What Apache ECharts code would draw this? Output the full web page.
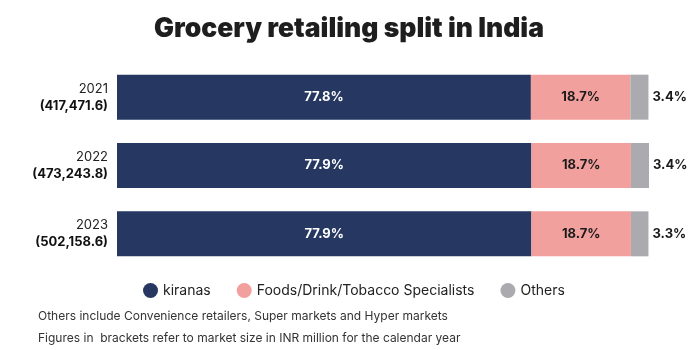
<!DOCTYPE html>
<html>
<head>
<meta charset="utf-8">
<script src="https://cdn.jsdelivr.net/npm/echarts@6/dist/echarts.min.js"></script>
<style>
  html, body { margin: 0; padding: 0; background: #fff; }
  #chart { width: 698px; height: 350px; }
</style>
</head>
<body>
<div id="chart"></div>
<script>
// Years and market size (INR million) shown on the category axis
const years = ['2021', '2022', '2023'];
const marketSize = ['417,471.6', '473,243.8', '502,158.6'];

// Share of grocery retailing by channel (%)
const kiranas = [77.8, 77.9, 77.9];
const specialists = [18.7, 18.7, 18.7];
const others = [3.4, 3.4, 3.3];

const seriesNames = ['kiranas', 'Foods/Drink/Tobacco Specialists', 'Others'];
const colors = ['#263862', '#F2A09D', '#ABABAF'];

const footnotes = [
  'Others include Convenience retailers, Super markets and Hyper markets',
  'Figures in  brackets refer to market size in INR million for the calendar year'
];

const FONT = 'Inter, "Noto Sans", sans-serif';
const chart = echarts.init(document.getElementById('chart'));

const pct = p => p.value.toFixed(1) + '%';

chart.setOption({
  animation: false,
  textStyle: { fontFamily: FONT },
  title: {
    text: 'Grocery retailing split in India',
    left: 'center',
    top: 11,
    textStyle: { fontFamily: FONT, fontSize: 26.5, fontWeight: 900, color: '#1e1e1e' }
  },
  legend: {
    data: seriesNames,
    top: 278,
    left: 138,
    itemGap: 26,
    icon: 'circle',
    itemWidth: 15,
    itemHeight: 15,
    textStyle: { fontFamily: FONT, fontSize: 14, color: '#222' }
  },
  graphic: footnotes.map((t, i) => ({
    type: 'text',
    left: 38,
    top: 310 + i * 22,
    style: { text: t, font: '12px ' + FONT, fill: '#333' }
  })),
  grid: { left: 117, right: 49, top: 63, bottom: 82 },
  xAxis: {
    type: 'value', min: 0, max: 100, show: false
  },
  yAxis: {
    type: 'category',
    data: years,
    inverse: true,
    axisLine: { show: false },
    axisTick: { show: false },
    axisLabel: {
      margin: 9,
      formatter: (v, i) => '{y|' + v + '}\n{b|(' + marketSize[i] + ')}',
      rich: {
        y: { fontFamily: FONT, fontSize: 13, color: '#222', align: 'right', lineHeight: 17 },
        b: { fontFamily: FONT, fontSize: 13, fontWeight: 'bold', color: '#111', align: 'right', lineHeight: 17 }
      }
    }
  },
  series: [
    {
      name: seriesNames[0], type: 'bar', stack: 'total', data: kiranas, barWidth: 45,
      itemStyle: { color: colors[0] },
      label: { show: true, position: 'inside', formatter: pct, color: '#fff', fontWeight: 'bold', fontSize: 13, fontFamily: FONT }
    },
    {
      name: seriesNames[1], type: 'bar', stack: 'total', data: specialists, barWidth: 45,
      itemStyle: { color: colors[1] },
      label: { show: true, position: 'inside', formatter: pct, color: '#1a1a1a', fontWeight: 'bold', fontSize: 13, fontFamily: FONT }
    },
    {
      name: seriesNames[2], type: 'bar', stack: 'total', data: others, barWidth: 45,
      itemStyle: { color: colors[2] },
      label: { show: true, position: 'right', distance: 4, formatter: pct, color: '#1a1a1a', fontWeight: 'bold', fontSize: 13, fontFamily: FONT }
    }
  ]
});
</script>
</body>
</html>
